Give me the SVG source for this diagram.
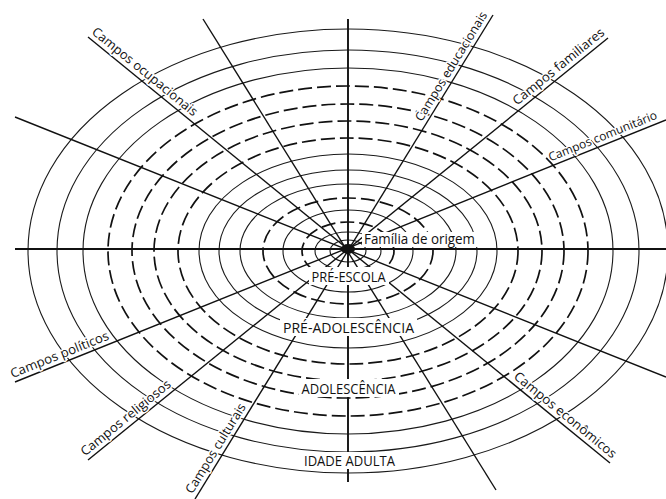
<svg xmlns="http://www.w3.org/2000/svg" width="666" height="499" viewBox="0 0 666 499">
<style>
.s{fill:none;stroke:#1a1a1a;stroke-width:1.1}
.d{fill:none;stroke:#111;stroke-width:1.7;stroke-dasharray:14 5}
.ln{stroke:#111;stroke-width:1.4;fill:none}
.ax{stroke:#111;stroke-width:1.9;fill:none}
.lbl{font-family:"Open Sans","Liberation Sans",sans-serif;font-size:14px;fill:#111}
.rot{font-size:12.8px;paint-order:stroke;stroke:#fff;stroke-width:3px;stroke-linejoin:round}
.bg{fill:#fff}
</style>
<rect width="666" height="499" fill="#fff"/>
<g id="rings">
<ellipse class="s" cx="348" cy="251" rx="18" ry="11"/>
<ellipse class="s" cx="348" cy="251" rx="33" ry="19"/>
<ellipse class="d" cx="348" cy="251" rx="46" ry="29"/>
<ellipse class="s" cx="348" cy="251" rx="65" ry="41"/>
<ellipse class="d" cx="348" cy="251" rx="85" ry="53"/>
<ellipse class="s" cx="348" cy="251" rx="108" ry="67"/>
<ellipse class="s" cx="348" cy="251" rx="129" ry="81"/>
<ellipse class="s" cx="348" cy="251" rx="149" ry="97"/>
<ellipse class="d" cx="348" cy="251" rx="170" ry="113"/>
<ellipse class="d" cx="348" cy="251" rx="194" ry="130"/>
<ellipse class="d" cx="348" cy="251" rx="216" ry="147"/>
<ellipse class="d" cx="348" cy="251" rx="240" ry="165"/>
<ellipse class="s" cx="348" cy="251" rx="265" ry="183"/>
<ellipse class="s" cx="348" cy="251" rx="291" ry="201"/>
<ellipse class="s" cx="348" cy="251" rx="320" ry="222"/>
</g>
<g id="connectors">
<line class="ax" x1="15" y1="249" x2="666" y2="249"/>
<line class="ax" x1="348" y1="19" x2="348" y2="482"/>
<line class="ln" x1="88" y1="37" x2="610" y2="463"/>
<line class="ln" x1="203" y1="19" x2="496" y2="490"/>
<line class="ln" x1="15" y1="117" x2="666" y2="377"/>
<line class="ln" x1="493" y1="15" x2="195" y2="499"/>
<line class="ln" x1="608" y1="38" x2="88" y2="460"/>
<line class="ln" x1="666" y1="120" x2="15" y2="382"/>
</g>
<g id="center">
<ellipse cx="348" cy="249" rx="7" ry="5" fill="#111"/>
</g>
<g id="familia">
<rect class="bg" x="362" y="232" width="116" height="15"/>
<text class="lbl" x="364" y="244" textLength="111" lengthAdjust="spacingAndGlyphs">Família de origem</text>
</g>
<g id="pre-escola">
<rect class="bg" x="309" y="267" width="80" height="18"/>
<text class="lbl" x="348.5" y="282" text-anchor="middle" textLength="74" lengthAdjust="spacingAndGlyphs">PRÉ-ESCOLA</text>
</g>
<g id="pre-adolescencia">
<rect class="bg" x="280" y="318" width="137" height="18"/>
<text class="lbl" x="348.5" y="333" text-anchor="middle" textLength="131" lengthAdjust="spacingAndGlyphs">PRÉ-ADOLESCÊNCIA</text>
</g>
<g id="adolescencia">
<rect class="bg" x="299" y="379" width="100" height="18"/>
<text class="lbl" x="348.5" y="394" text-anchor="middle" textLength="94" lengthAdjust="spacingAndGlyphs">ADOLESCÊNCIA</text>
</g>
<g id="idade-adulta">
<rect class="bg" x="301" y="452" width="97" height="17"/>
<text class="lbl" x="349.5" y="466" text-anchor="middle" textLength="91" lengthAdjust="spacingAndGlyphs">IDADE ADULTA</text>
</g>
<g id="ocupacionais">
<text class="lbl rot" transform="translate(91,33.3) rotate(39.2)" textLength="132" lengthAdjust="spacingAndGlyphs">Campos ocupacionais</text>
</g>
<g id="educacionais">
<text class="lbl rot" transform="translate(421.7,122.2) rotate(-58.4)" style="font-size:12.4px" textLength="126" lengthAdjust="spacingAndGlyphs">Campos educacionais</text>
</g>
<g id="familiares">
<text class="lbl rot" transform="translate(517,105.8) rotate(-39.1)" textLength="114" lengthAdjust="spacingAndGlyphs">Campos familiares</text>
</g>
<g id="comunitarios">
<text class="lbl rot" transform="translate(550.4,161.6) rotate(-21.9)" style="font-size:12px" textLength="116" lengthAdjust="spacingAndGlyphs">Campos comunitário</text>
</g>
<g id="politicos">
<text class="lbl rot" transform="translate(12.4,378.2) rotate(-21.9)" textLength="105" lengthAdjust="spacingAndGlyphs">Campos políticos</text>
</g>
<g id="religiosos">
<text class="lbl rot" transform="translate(85,456.5) rotate(-39.1)" textLength="112" lengthAdjust="spacingAndGlyphs">Campos religiosos</text>
</g>
<g id="culturais">
<text class="lbl rot" transform="translate(192.3,494.6) rotate(-58.4)" textLength="103" lengthAdjust="spacingAndGlyphs">Campos culturais</text>
</g>
<g id="economicos">
<text class="lbl rot" transform="translate(513,377.8) rotate(39.2)" textLength="128" lengthAdjust="spacingAndGlyphs">Campos econômicos</text>
</g>
</svg>
